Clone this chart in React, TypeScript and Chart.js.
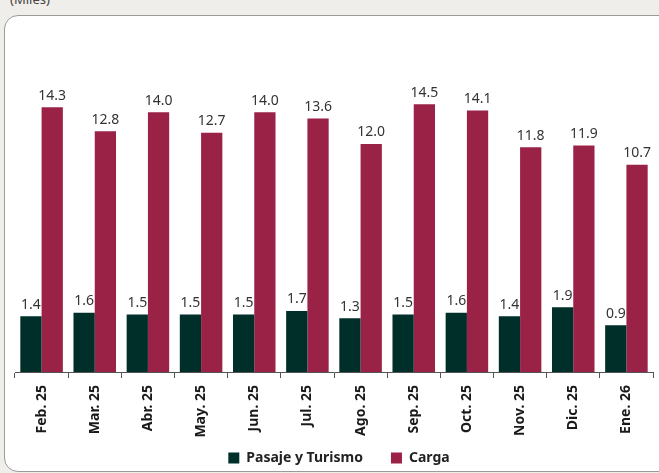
import React, { useEffect, useRef } from "react";
import { Chart, registerables } from "chart.js";

Chart.register(...registerables);

const categories = ["Feb. 25", "Mar. 25", "Abr. 25", "May. 25", "Jun. 25", "Jul. 25", "Ago. 25", "Sep. 25", "Oct. 25", "Nov. 25", "Dic. 25", "Ene. 26"];
const pasajeTurismo = [1.4, 1.6, 1.5, 1.5, 1.5, 1.7, 1.3, 1.5, 1.6, 1.4, 1.9, 0.9];
const carga = [14.3, 12.8, 14.0, 12.7, 14.0, 13.6, 12.0, 14.5, 14.1, 11.8, 11.9, 10.7];
const seriesNames = ["Pasaje y Turismo", "Carga"];

const FONT = '"Noto Sans", "Open Sans", sans-serif';

const valueLabels = {
  id: "valueLabels",
  afterDatasetsDraw(chart: any) {
    const ctx = chart.ctx;
    ctx.save();
    ctx.font = `14px ${FONT}`;
    ctx.fillStyle = "#333333";
    ctx.textAlign = "center";
    ctx.textBaseline = "alphabetic";
    chart.data.datasets.forEach((ds: any, i: number) => {
      const meta = chart.getDatasetMeta(i);
      meta.data.forEach((bar: any, j: number) => {
        ctx.fillText(Number(ds.data[j]).toFixed(1), bar.x, bar.y - 7.5);
      });
    });
    ctx.restore();
  },
};

const bottomLegend = {
  id: "bottomLegend",
  afterDraw(chart: any) {
    const ctx = chart.ctx;
    const box = 11;
    const gapText = 7;
    const gapItem = 28;
    ctx.save();
    ctx.font = `bold 14px ${FONT}`;
    const items = chart.data.datasets.map((ds: any) => ({
      text: ds.label,
      color: ds.backgroundColor,
      w: box + gapText + ctx.measureText(ds.label).width,
    }));
    const total = items.reduce((s: number, it: any) => s + it.w, 0) + gapItem * (items.length - 1);
    const center = (chart.chartArea.left + chart.chartArea.right) / 2 + 5;
    let x = center - total / 2;
    const yc = 458;
    ctx.textBaseline = "middle";
    ctx.textAlign = "left";
    items.forEach((it: any) => {
      ctx.fillStyle = it.color;
      ctx.fillRect(x, yc - box / 2, box, box);
      ctx.fillStyle = "#222222";
      ctx.fillText(it.text, x + box + gapText, yc);
      x += it.w + gapItem;
    });
    ctx.restore();
  },
};

export default function App() {
  const ref = useRef<HTMLCanvasElement | null>(null);

  useEffect(() => {
    if (!ref.current) return;
    Chart.defaults.font.family = FONT;
    const pasajeMin = -1.69;
    const cargaMin = -2.32;
    const chart = new Chart(ref.current, {
      type: "bar",
      data: {
        labels: categories,
        datasets: [
          {
            label: seriesNames[0],
            data: pasajeTurismo,
            backgroundColor: "#002F2A",
            yAxisID: "y2",
            base: pasajeMin,
            barPercentage: 1,
            categoryPercentage: 0.8,
          } as any,
          {
            label: seriesNames[1],
            data: carga,
            backgroundColor: "#9B2247",
            yAxisID: "y",
            base: cargaMin,
            barPercentage: 1,
            categoryPercentage: 0.8,
          } as any,
        ],
      },
      options: {
        responsive: false,
        animation: false,
        devicePixelRatio: 1,
        layout: { padding: { left: 15, right: 6, top: 40, bottom: 0 } },
        plugins: {
          tooltip: { enabled: false },
          legend: { display: false },
        },
        scales: {
          x: {
            offset: true,
            grid: {
              display: true,
              drawOnChartArea: false,
              drawTicks: true,
              tickLength: 6,
              color: "#555555",
              offset: true,
            },
            border: { display: true, color: "#555555" },
            ticks: {
              autoSkip: false,
              minRotation: 90,
              maxRotation: 90,
              padding: 7,
              color: "#1a1a1a",
              font: { size: 14, weight: "bold", family: FONT },
            },
            afterFit: (scale: any) => {
              scale.height = 101;
            },
          },
          y: {
            display: false,
            min: cargaMin,
            max: 18.53,
          },
          y2: {
            display: false,
            min: pasajeMin,
            max: 16.75,
          },
        },
      },
      plugins: [valueLabels, bottomLegend],
    });
    return () => chart.destroy();
  }, []);

  return (
    <div style={{ position: "fixed", inset: 0, background: "#efeeeb", overflow: "hidden", fontFamily: FONT }}>
      <div style={{ position: "absolute", left: 10, top: -10, fontSize: 13, color: "#444" }}>(Miles)</div>
      <div
        style={{
          position: "absolute",
          left: 4,
          top: 15,
          width: 700,
          height: 455,
          border: "1px solid #9a9a9a",
          borderRadius: 14,
          background: "#ffffff",
        }}
      />
      <canvas ref={ref} width={659} height={473} style={{ position: "absolute", left: 0, top: 0, width: 659, height: 473 }} />
    </div>
  );
}
